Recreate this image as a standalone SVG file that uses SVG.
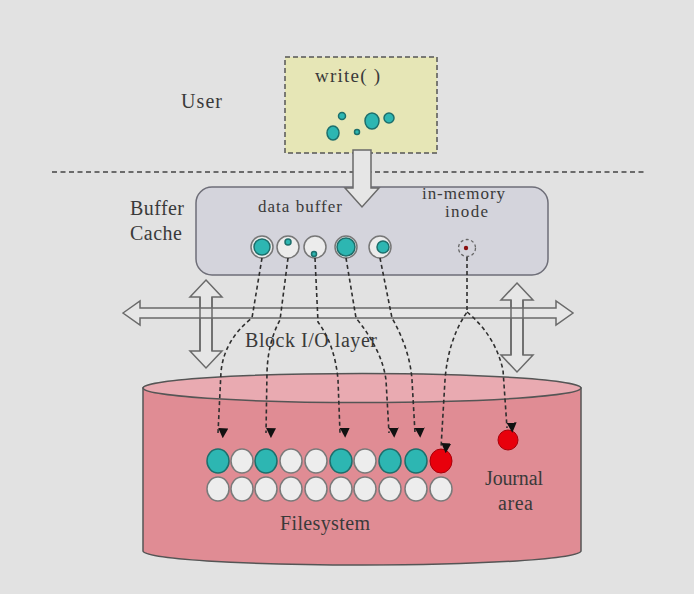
<svg xmlns="http://www.w3.org/2000/svg" width="694" height="594" viewBox="0 0 694 594">
<defs>
<style>
.t{font-family:"Liberation Serif","Times New Roman",serif;fill:#3a3a3a}
.blk{fill:#e6e6e6;stroke:#6a6a6a;stroke-width:1.5;stroke-linejoin:miter}
.dash{fill:none;stroke:#2e2e2e;stroke-width:1.6;stroke-dasharray:4 3}
.teal{fill:#2db6b2;stroke:#1d6f6c;stroke-width:1.5}
.wh{fill:#ededed;stroke:#7a7a7a;stroke-width:1.5}
.red{fill:#e8000c;stroke:#a8000a;stroke-width:1}
.ring{fill:#ececec;stroke:#777;stroke-width:1.5}
</style>
<marker id="ah" viewBox="0 0 10 10" refX="5" refY="10" markerWidth="10" markerHeight="10" markerUnits="userSpaceOnUse" orient="auto-start-reverse">
<path d="M0,0 L10,0 L5,10 Z" fill="#111" transform="rotate(-90 5 5)"/>
</marker>
</defs>
<rect width="694" height="594" fill="#e2e2e2"/>

<g id="user-label"><text class="t" x="181" y="108" font-size="20" textLength="41">User</text></g>

<g id="write-box">
<rect x="285" y="57" width="152" height="96" fill="#e6e6b6" stroke="#555" stroke-width="1.5" stroke-dasharray="5 3"/>
<text class="t" x="315" y="82" font-size="19" textLength="65">write( )</text>
<ellipse class="teal" cx="333" cy="133" rx="6" ry="7"/>
<circle class="teal" cx="342" cy="116" r="3.5"/>
<circle class="teal" cx="357" cy="132" r="2.5"/>
<ellipse class="teal" cx="372" cy="121" rx="7" ry="8"/>
<circle class="teal" cx="389" cy="118" r="5"/>
</g>

<line x1="52" y1="172" x2="646" y2="172" stroke="#444" stroke-width="1.5" stroke-dasharray="5 3.5"/>

<g id="buffer-label">
<text class="t" x="130" y="215" font-size="20" textLength="54">Buffer</text>
<text class="t" x="130" y="240" font-size="20" textLength="52">Cache</text>
</g>

<g id="buffer-cache">
<rect x="196" y="187" width="352" height="88" rx="16" fill="#d4d4dc" stroke="#6e6e78" stroke-width="1.5"/>
<text class="t" x="258" y="212" font-size="17" textLength="84">data buffer</text>
<text class="t" x="422" y="199" font-size="17" textLength="83">in-memory</text>
<text class="t" x="445" y="217" font-size="17" textLength="43">inode</text>
<circle class="ring" cx="262" cy="247" r="11"/><circle class="teal" cx="262" cy="247" r="8"/>
<circle class="ring" cx="288" cy="247" r="11"/><circle class="teal" cx="288" cy="242" r="3"/>
<circle class="ring" cx="315" cy="247" r="11"/><circle class="teal" cx="314" cy="254" r="2.5"/>
<circle class="ring" cx="346" cy="247" r="11"/><circle class="teal" cx="346" cy="247" r="9"/>
<circle class="ring" cx="380" cy="247" r="11"/><circle class="teal" cx="383" cy="247" r="6"/>
<circle cx="467" cy="248" r="8.5" fill="none" stroke="#666" stroke-width="1.3" stroke-dasharray="3 2.5"/>
<circle cx="466" cy="248" r="2.2" fill="#8a1010"/>
</g>

<g id="write-arrow">
<polygon class="blk" points="353,150 371,150 371,188 379,188 362,207 345,188 353,188"/>
</g>

<g id="block-io">
<polygon class="blk" points="206,280 222,297 212,297 212,351 222,351 206,368 190,351 200,351 200,297 190,297"/>
<polygon class="blk" points="517,283 533,300 523,300 523,355 533,355 517,372 501,355 511,355 511,300 501,300"/>
<polygon class="blk" points="123,313 140,301 140,308 556,308 556,301 573,313 556,325 556,318 140,318 140,325"/>
<polyline points="200,297 200,351" fill="none" stroke="#6a6a6a" stroke-width="1.5"/>
<polyline points="212,297 212,351" fill="none" stroke="#6a6a6a" stroke-width="1.5"/>
<polyline points="511,300 511,355" fill="none" stroke="#6a6a6a" stroke-width="1.5"/>
<polyline points="523,300 523,355" fill="none" stroke="#6a6a6a" stroke-width="1.5"/>
<text class="t" x="245" y="347" font-size="20" textLength="132">Block I/O layer</text>
</g>

<g id="disk">
<path d="M143,388 V551 A219,14 0 0 0 581,551 V388 Z" fill="#e08c94" stroke="#555" stroke-width="1.5"/>
<ellipse cx="362" cy="388" rx="219" ry="14.5" fill="#e9aab1" stroke="#555" stroke-width="1.5"/>
<g id="blocks-row1">
<ellipse class="teal" cx="218" cy="461" rx="11" ry="12"/>
<ellipse class="wh" cx="242" cy="461" rx="11" ry="12"/>
<ellipse class="teal" cx="266" cy="461" rx="11" ry="12"/>
<ellipse class="wh" cx="291" cy="461" rx="11" ry="12"/>
<ellipse class="wh" cx="316" cy="461" rx="11" ry="12"/>
<ellipse class="teal" cx="341" cy="461" rx="11" ry="12"/>
<ellipse class="wh" cx="365" cy="461" rx="11" ry="12"/>
<ellipse class="teal" cx="390" cy="461" rx="11" ry="12"/>
<ellipse class="teal" cx="416" cy="461" rx="11" ry="12"/>
<ellipse class="red" cx="441" cy="461" rx="11" ry="12"/>
</g>
<g id="blocks-row2">
<ellipse class="wh" cx="218" cy="489" rx="11" ry="12"/>
<ellipse class="wh" cx="242" cy="489" rx="11" ry="12"/>
<ellipse class="wh" cx="266" cy="489" rx="11" ry="12"/>
<ellipse class="wh" cx="291" cy="489" rx="11" ry="12"/>
<ellipse class="wh" cx="316" cy="489" rx="11" ry="12"/>
<ellipse class="wh" cx="341" cy="489" rx="11" ry="12"/>
<ellipse class="wh" cx="365" cy="489" rx="11" ry="12"/>
<ellipse class="wh" cx="390" cy="489" rx="11" ry="12"/>
<ellipse class="wh" cx="416" cy="489" rx="11" ry="12"/>
<ellipse class="wh" cx="441" cy="489" rx="11" ry="12"/>
</g>
<text class="t" x="280" y="530" font-size="20" textLength="90">Filesystem</text>
</g>

<g id="journal">
<circle class="red" cx="508" cy="440" r="10"/>
<text class="t" x="485" y="485" font-size="20" textLength="58">Journal</text>
<text class="t" x="498" y="510" font-size="20" textLength="35">area</text>
</g>

<g id="connectors">
<path class="dash" marker-end="url(#ah)" d="M262,258 L252,318 Q224,340 221,372 L218,433"/>
<path class="dash" marker-end="url(#ah)" d="M288,258 L280,320 Q268,342 267,372 L266,433"/>
<path class="dash" marker-end="url(#ah)" d="M315,258 L318,322 Q335,345 338,380 L340,433"/>
<path class="dash" marker-end="url(#ah)" d="M346,258 L356,318 Q382,350 386,380 L389,433"/>
<path class="dash" marker-end="url(#ah)" d="M380,258 L392,318 Q410,350 412,380 L415,433"/>
<path class="dash" marker-end="url(#ah)" d="M467,257 L467,312 Q448,340 445,380 L441,448"/>
<path class="dash" marker-end="url(#ah)" d="M467,312 Q495,335 503,370 L507,428"/>
</g>
</svg>
